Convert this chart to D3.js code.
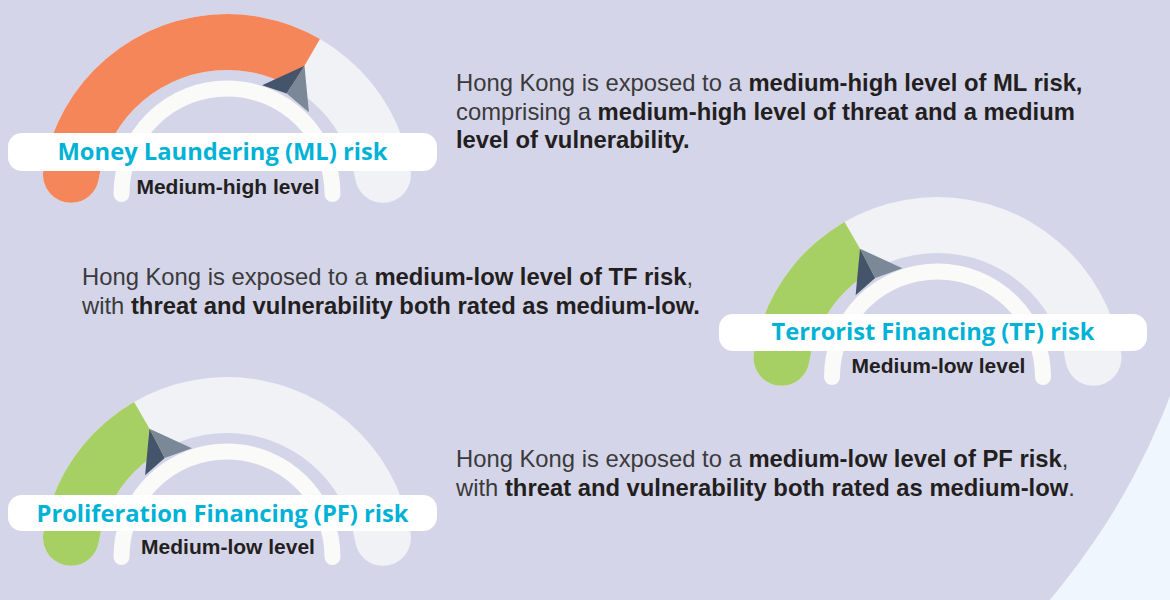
<!DOCTYPE html>
<html>
<head>
<meta charset="utf-8">
<script src="https://cdn.jsdelivr.net/npm/d3@7"></script>
<style>
  html, body { margin: 0; padding: 0; background: #d5d5ea; }
  svg { display: block; }
  .title { font-variant-ligatures: none; }
</style>
</head>
<body>
<svg id="chart" width="1170" height="600"></svg>
<script>
// Risk categories and their assessed levels
const risks = ["Money Laundering (ML) risk", "Terrorist Financing (TF) risk", "Proliferation Financing (PF) risk"];
const levelLabels = ["Medium-high level", "Medium-low level", "Medium-low level"];
// Position of each level on a 0–6 dial (1 = low … 5 = high)
const levelScores = [4, 2, 2];

// Explanatory sentences: one entry per line, each a list of [text, isBold] runs
const mlLines = [
  [["Hong Kong is exposed to a ", 0], ["medium-high level of ML risk,", 1]],
  [["comprising a ", 0], ["medium-high level of threat and a medium", 1]],
  [["level of vulnerability.", 1]]
];
const tfLines = [
  [["Hong Kong is exposed to a ", 0], ["medium-low level of TF risk", 1], [",", 0]],
  [["with ", 0], ["threat and vulnerability both rated as medium-low.", 1]]
];
const pfLines = [
  [["Hong Kong is exposed to a ", 0], ["medium-low level of PF risk", 1], [",", 0]],
  [["with ", 0], ["threat and vulnerability both rated as medium-low", 1], [".", 0]]
];
const paragraphs = [mlLines, tfLines, pfLines];

// Page layout for each gauge block
const layout = [
  { cx: 227,   cy: 200, pill: [8, 133, 429, 38],   titleW: 330, titleY: 160, subY: 193.5, textX: 456, textY: 91 },
  { cx: 937.5, cy: 383, pill: [719, 314, 428, 37], titleW: 323, titleY: 340, subY: 373,   textX: 82,  textY: 285 },
  { cx: 227,   cy: 563, pill: [8, 495, 429, 36],   titleW: 372, titleY: 521.5, subY: 553.5, textX: 456, textY: 467 }
];

const W = 1170, H = 600;
const svg = d3.select("#chart");

// Backdrop: pale blue page with a large lavender disc
svg.append("rect").attr("width", W).attr("height", H).attr("fill", "#eff6fe");
svg.append("circle").attr("cx", 520).attr("cy", 150).attr("r", 695).attr("fill", "#d5d5ea");

// Dial scale: score -> angle (0 at 12 o'clock, clockwise)
const angle = d3.scaleLinear().domain([0, 6]).range([-Math.PI / 2, Math.PI / 2]);
const bandColor = d3.scaleThreshold().domain([3]).range(["#a6cf64", "#f5865a"]);

const R_IN = 130, R_OUT = 186, PAD = 0.018;
const band = d3.arc()
  .innerRadius(R_IN).outerRadius(R_OUT).cornerRadius(28)
  .startAngle(-Math.PI / 2 - PAD).endAngle(Math.PI / 2 + PAD);
const wedge = d3.arc()
  .innerRadius(0).outerRadius(R_OUT + 20)
  .startAngle(-Math.PI).endAngle(d => angle(d));

// radial distance r along angle a, shifted t along the clockwise tangent
const polar = (r, a, t = 0) => [r * Math.sin(a) + t * Math.cos(a), -r * Math.cos(a) + t * Math.sin(a)];

risks.forEach((name, i) => {
  const L = layout[i];
  const s = levelScores[i];
  const a = angle(s);
  const g = svg.append("g").attr("transform", `translate(${L.cx},${L.cy})`);

  // grey track then coloured level
  g.append("path").attr("d", band()).attr("fill", "#f1f2f5");
  const clipId = "level-clip-" + i;
  g.append("clipPath").attr("id", clipId).append("path").attr("d", wedge(s));
  g.append("path").attr("d", band()).attr("fill", bandColor(s)).attr("clip-path", `url(#${clipId})`);

  // two-tone pointer at the level boundary
  const tip = polar(155, a), baseL = polar(117, a, -27), baseR = polar(117, a, 27), mid = polar(122, a, -1.5);
  g.append("path").attr("d", d3.line()([tip, baseL, mid]) + "Z").attr("fill", "#44546a");
  g.append("path").attr("d", d3.line()([tip, mid, baseR]) + "Z").attr("fill", "#7b8898");

  // inner white ring
  const p = d3.path();
  p.arc(0, -6, 105.5, Math.PI, 2 * Math.PI);
  g.append("path").attr("d", p.toString())
    .attr("fill", "none").attr("stroke", "#fafaf9")
    .attr("stroke-width", 16).attr("stroke-linecap", "round");

  // title pill
  const [px, py, pw, ph] = L.pill;
  svg.append("rect").attr("x", px).attr("y", py).attr("width", pw).attr("height", ph)
    .attr("rx", 14).attr("fill", "#ffffff");
  svg.append("text")
    .attr("class", "title")
    .attr("x", px + pw / 2).attr("y", L.titleY)
    .attr("text-anchor", "middle")
    .attr("font-family", "'Open Sans', Lato, sans-serif")
    .attr("font-weight", 700).attr("font-size", 24)
    .attr("fill", "#00b2d6")
    .attr("textLength", L.titleW).attr("lengthAdjust", "spacingAndGlyphs")
    .text(name);

  // level caption
  svg.append("text")
    .attr("x", L.cx + 1).attr("y", L.subY)
    .attr("text-anchor", "middle")
    .attr("font-family", "'Liberation Sans', Arial, sans-serif")
    .attr("font-weight", 700).attr("font-size", 21)
    .attr("fill", "#231f20")
    .text(levelLabels[i]);

  // explanatory paragraph
  paragraphs[i].forEach((line, j) => {
    const t = svg.append("text")
      .attr("x", L.textX).attr("y", L.textY + j * 28.5)
      .attr("font-family", "'Liberation Sans', Arial, sans-serif")
      .attr("font-size", 23.8).attr("fill", "#231f20");
    line.forEach(([txt, bold]) => {
      t.append("tspan")
        .attr("font-weight", bold ? 700 : 400)
        .attr("fill", bold ? "#231f20" : "#3a3a3a")
        .text(txt);
    });
  });
});
</script>
</body>
</html>
